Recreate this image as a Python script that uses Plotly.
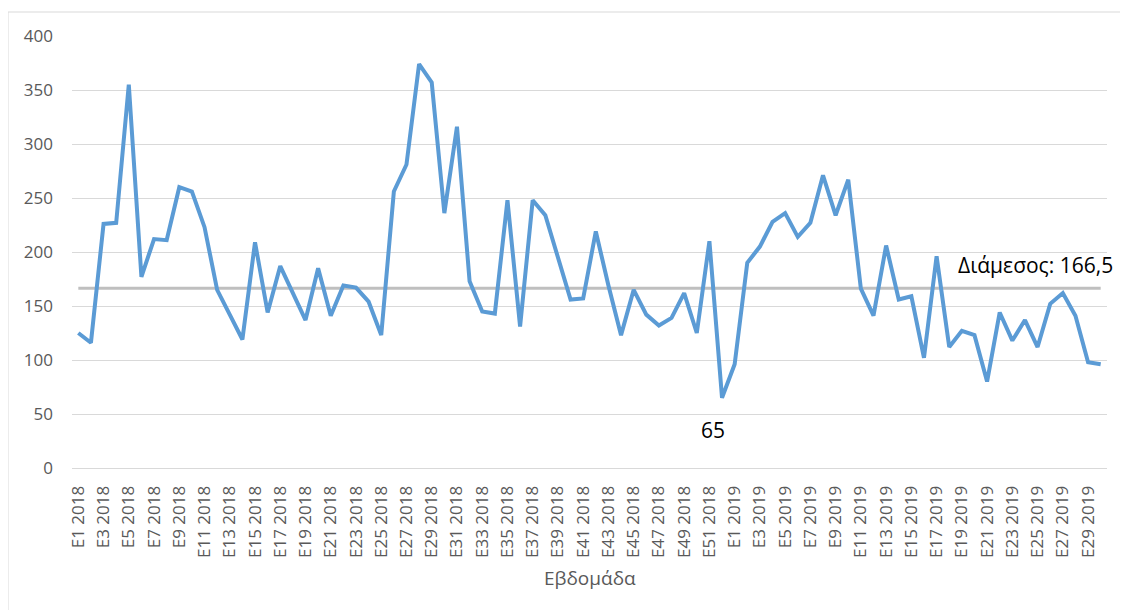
import plotly.graph_objects as go

weeks_2018 = [f"E{i} 2018" for i in range(1, 53)]
weeks_2019 = [f"E{i} 2019" for i in range(1, 31)]
categories = weeks_2018 + weeks_2019

values = [
    125, 116, 226, 227, 355, 177, 212, 211, 260, 256,
    223, 165, 142, 119, 209, 144, 187, 162, 137, 185,
    141, 169, 167, 154, 123, 256, 281, 374, 357, 236,
    316, 173, 145, 143, 248, 131, 248, 234, 194, 156,
    157, 219, 169, 123, 165, 142, 132, 139, 162, 125,
    210, 65, 96, 190, 205, 228, 236, 214, 227, 271,
    234, 267, 166, 141, 206, 156, 159, 102, 196, 112,
    127, 123, 80, 144, 118, 137, 112, 152, 162, 141,
    98, 96,
]
median_value = 166.5
median_label = "Διάμεσος: 166,5"
min_label = "65"
x_title = "Εβδομάδα"
tick_labels = categories[::2]

grey = "#595959"
font_family = "Open Sans, Liberation Sans, sans-serif"

# page body has an 8px margin; plot area target: x 72-1107, y 36-468 in window
L, R, T, B = 64, 29, 28, 150
W, H = 1128, 610
PW, PH = W - L - R, H - T - B

fig = go.Figure()
fig.add_trace(go.Scatter(
    x=categories, y=[median_value] * len(categories), mode="lines",
    line=dict(color="#BFBFBF", width=3), hoverinfo="skip", showlegend=False,
))
fig.add_trace(go.Scatter(
    x=categories, y=values, mode="lines",
    line=dict(color="#5B9BD5", width=4), showlegend=False,
))

fig.add_annotation(x=75.8, y=188, text=median_label, showarrow=False,
                   font=dict(size=21, color="#000000", family=font_family))
fig.add_annotation(x=50.3, y=35, text=min_label, showarrow=False,
                   font=dict(size=21, color="#000000", family=font_family))
fig.add_annotation(xref="paper", yref="paper", x=(590 - 72) / PW, y=-110 / PH,
                   text=x_title, showarrow=False, xanchor="center", yanchor="middle",
                   font=dict(size=19, color=grey, family=font_family))

fig.update_layout(
    width=W, height=H,
    margin=dict(l=L, r=R, t=T, b=B),
    paper_bgcolor="white", plot_bgcolor="white",
    font=dict(family=font_family, color=grey),
    xaxis=dict(
        type="category", categoryorder="array", categoryarray=categories,
        tickmode="array", tickvals=tick_labels, ticktext=tick_labels,
        tickangle=-90, tickfont=dict(size=17, color=grey),
        showgrid=False, showline=True, linecolor="#D9D9D9", linewidth=1,
        ticks="", range=[-0.5, len(categories) - 0.5], ticklabelstandoff=10,
    ),
    yaxis=dict(
        range=[0, 400], tickvals=list(range(0, 401, 50)),
        tickfont=dict(size=17, color=grey),
        showgrid=True, gridcolor="#D9D9D9", gridwidth=1,
        zeroline=False, showline=False, ticks="", ticklabelstandoff=18,
    ),
)

fig.add_shape(type="rect", xref="paper", yref="paper",
              x0=-L / PW, x1=1 + (R + 20) / PW, y0=-(B + 20) / PH, y1=1 + (T - 4) / PH,
              line=dict(color="#D9D9D9", width=1), layer="below")

fig.write_html("out.html")
